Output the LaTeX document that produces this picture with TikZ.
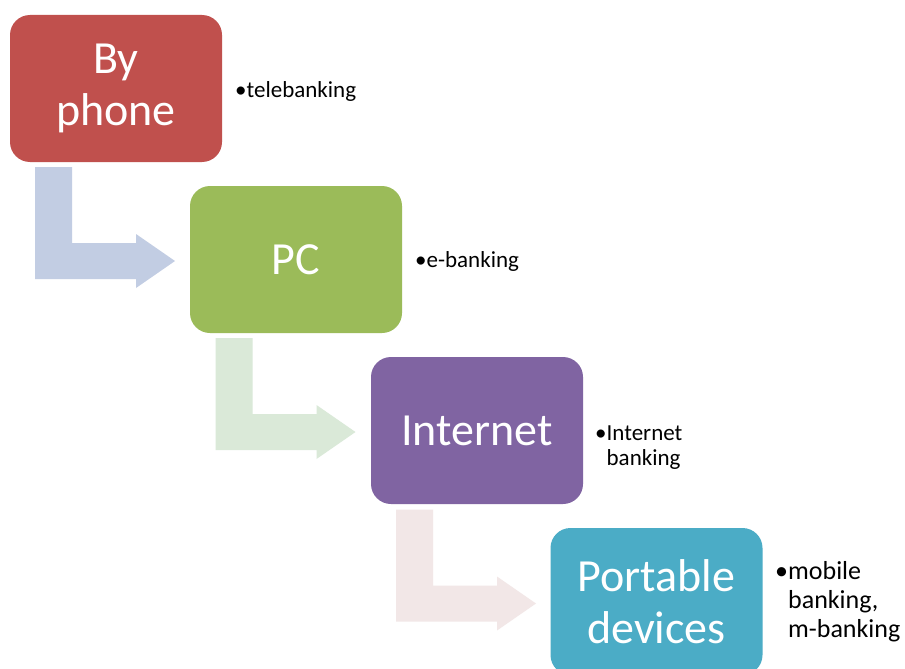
\documentclass[tikz,border=0pt]{standalone}
\usepackage{fontspec}
\setmainfont{Carlito}
\definecolor{cRed}{HTML}{C0504D}
\definecolor{cGreen}{HTML}{9BBB59}
\definecolor{cPurple}{HTML}{8064A2}
\definecolor{cTeal}{HTML}{4BACC6}
\definecolor{aBlue}{HTML}{C2CDE3}
\definecolor{aGreen}{HTML}{DAE9D8}
\definecolor{aPink}{HTML}{F2E7E7}
\newcommand\bentarrow[2]{%
  \fill[#2, shift={#1}] (35,167) -- (72,167) -- (72,243) -- (136,243) -- (136,234)
    -- (175,261) -- (136,288) -- (136,279) -- (35,279) -- cycle;}
\begin{document}
\begin{tikzpicture}[x=1pt,y=-1pt,
  box/.style={rounded corners=20pt, minimum width=212pt, minimum height=147pt,
    inner sep=0pt, text=white, font=\fontsize{46}{52}\selectfont, align=center},
  note/.style={anchor=base west, inner sep=0pt, font=\fontsize{23}{25}\selectfont},
  bignote/.style={anchor=base west, inner sep=0pt, font=\fontsize{26}{29}\selectfont}]
\useasboundingbox (0,0) rectangle (905,669);
\clip (0,0) rectangle (905,669);
\fill[white] (0,0) rectangle (905,669);
% bent arrows
\bentarrow{(0,0)}{aBlue}
\bentarrow{(180.5,171)}{aGreen}
\bentarrow{(361,342.5)}{aPink}
% boxes
\node[box, fill=cRed]    (b1) at (116,88.5)  {By\\phone};
\node[box, fill=cGreen]  (b2) at (296,259.5) {PC};
\node[box, fill=cPurple] (b3) at (477,430.5) {Internet};
\node[box, fill=cTeal]   (b4) at (656.5,601.5) {Portable\\devices};
% notes
\node[note] (t1) at (235,97) {•telebanking};
\node[note] (t2) at (415,267) {•e-banking};
\node[note] (t3) at (595,440) {\begin{tabular}[t]{@{}l@{}l@{}}•&Internet\\&banking\end{tabular}};
\node[bignote] (t4) at (775,579) {\begin{tabular}[t]{@{}l@{}l@{}}•&mobile\\&banking,\\&m-banking\end{tabular}};
\end{tikzpicture}
\end{document}
